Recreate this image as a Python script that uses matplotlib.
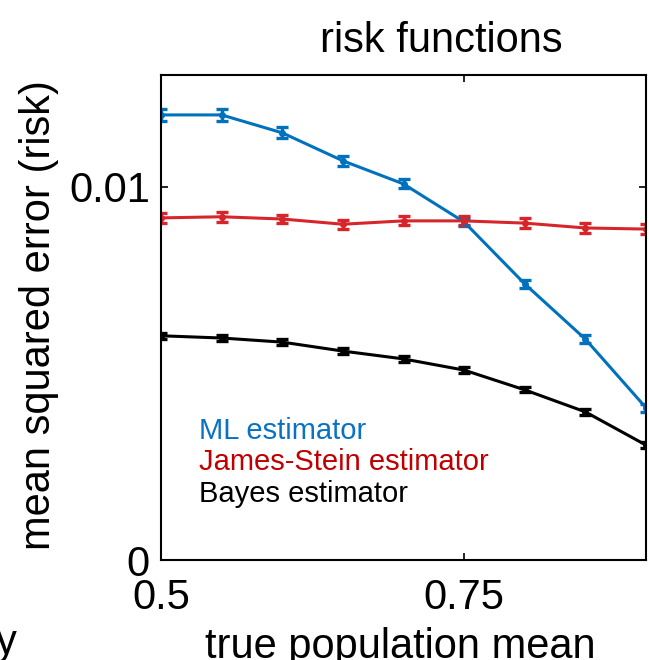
import numpy as np
import matplotlib
matplotlib.use("Agg")
import matplotlib.pyplot as plt

plt.rcParams['font.family'] = ['Liberation Sans', 'DejaVu Sans']

# true population mean at which each estimator was evaluated
mu = [0.5, 0.55, 0.6, 0.65, 0.7, 0.75, 0.8, 0.85, 0.9]

# mean squared error (risk) and its standard error for each estimator
ml_risk = [0.01193, 0.01193, 0.01145, 0.0107, 0.01008, 0.00906, 0.0074, 0.00592, 0.00408]
ml_err = [0.00015, 0.00015, 0.00015, 0.00013, 0.00012, 0.00012, 0.0001, 0.0001, 0.0001]

js_risk = [0.00917, 0.0092, 0.00914, 0.009, 0.00909, 0.00909, 0.00903, 0.0089, 0.00887]
js_err = [0.00013, 0.00013, 0.00012, 0.00012, 0.00012, 0.00012, 0.00013, 0.00014, 0.00014]

bayes_risk = [0.00601, 0.00595, 0.00584, 0.0056, 0.00539, 0.00509, 0.00456, 0.00397, 0.00308]
bayes_err = [0.00008, 0.00008, 0.00008, 0.00008, 0.00008, 0.00008, 0.00007, 0.00007, 0.00007]

labels = ['ML estimator', 'James-Stein estimator', 'Bayes estimator']
colors = ['#0072BD', '#D7262B', '#000000']
text_colors = ['#0A72C4', '#C00000', '#000000']

xticks = [0.5, 0.75]
yticks = [0, 0.01]

W, H = 649, 660
fig = plt.figure(figsize=(W / 100, H / 100), dpi=100)
ax = fig.add_axes([161 / W, 1 - 560 / H, 485 / W, 485 / H])

series = [(ml_risk, ml_err), (js_risk, js_err), (bayes_risk, bayes_err)]
for (risk, err), c in zip(series, colors):
    ax.errorbar(mu, risk, yerr=err, color=c, lw=2.2, marker='o', ms=4,
                elinewidth=2.4, capsize=4.5, capthick=2.4)

ax.set_xlim(0.5, 0.9)
ax.set_ylim(0, 0.013)
ax.set_xticks(xticks)
ax.set_xticklabels(['0.5', '0.75'])
ax.set_yticks(yticks)
ax.set_yticklabels(['0', '0.01'])
ax.tick_params(direction='in', length=5, width=1.2, top=True, right=True,
               labelsize=30)
ax.tick_params(axis='x', pad=13)
ax.tick_params(axis='y', pad=8)
for s in ax.spines.values():
    s.set_linewidth(1.5)

# text legend inside the axes
for i, (lab, tc) in enumerate(zip(labels, text_colors)):
    ax.text(38 / 485, (121 - 31.5 * i) / 485, lab, color=tc, fontsize=21,
            transform=ax.transAxes, va='baseline', ha='left')

fig.text(441 / W, 1 - 52 / H, 'risk functions', fontsize=30,
         ha='center', va='baseline')
fig.text(400 / W, 1 - 658 / H, 'true population mean', fontsize=30,
         ha='center', va='baseline')
fig.text(50 / W, 1 - 315 / H, 'mean squared error (risk)', fontsize=30,
         rotation=90, rotation_mode='anchor', ha='center', va='baseline')
# tail of the neighbouring panel's x label
fig.text(-4 / W, 1 - 654 / H, 'y', fontsize=30, ha='left', va='baseline')

fig.savefig('out.png', dpi=100)
